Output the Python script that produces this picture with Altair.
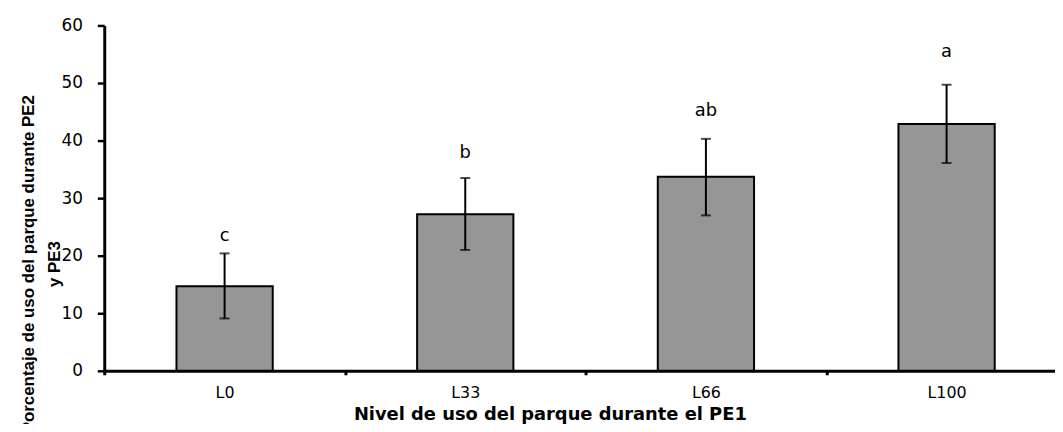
import altair as alt
import pandas as pd

categories = ["L0", "L33", "L66", "L100"]
means = [14.7, 27.2, 33.7, 42.9]
lower = [9.1, 21.0, 27.0, 36.1]
upper = [20.4, 33.5, 40.3, 49.7]
letters = ["c", "b", "ab", "a"]
letter_y = [23.5, 37.8, 45.2, 55.3]
y_ticks = [0, 10, 20, 30, 40, 50, 60]

df = pd.DataFrame({
    "nivel": categories,
    "media": means,
    "lo": lower,
    "hi": upper,
    "letra": letters,
    "ly": letter_y,
})

x_scale = alt.Scale(domain=categories, range=[0, 970], paddingInner=0, paddingOuter=0)
y_scale = alt.Scale(domain=[0, 60], nice=False)

x_enc = alt.X(
    "nivel:N",
    sort=categories,
    scale=x_scale,
    axis=alt.Axis(
        title="Nivel de uso del parque durante el PE1",
        titleFont="DejaVu Sans",
        titleFontWeight="bold",
        titleFontSize=18,
        titleColor="black",
        titleX=449,
        titleY=44,
        titleBaseline="middle",
        labelFont="DejaVu Sans",
        labelFontSize=16,
        labelColor="black",
        labelAngle=0,
        labelPadding=10,
        tickBand="extent",
        tickSize=4,
        tickWidth=3,
        tickColor="black",
        domainColor="black",
        domainWidth=3,
        grid=False,
    ),
)

y_axis = alt.Axis(
    title=["Porcentaje de uso del parque durante PE2", "y PE3"],
    titleFont="Liberation Sans",
    titleFontWeight="bold",
    titleFontSize=17,
    titleColor="black",
    titleAngle=270,
    titleAlign="center",
    titleBaseline="alphabetic",
    titleX=-71,
    titleY=240,
    titleLineHeight=26,
    labelFont="DejaVu Sans",
    labelFontSize=17,
    labelColor="black",
    labelPadding=15,
    values=y_ticks,
    tickSize=7,
    tickWidth=2.5,
    tickColor="black",
    domainColor="black",
    domainWidth=3,
    grid=False,
)

base = alt.Chart(df)

bars = base.mark_bar(size=97, color="#969696", stroke="black", strokeWidth=2).encode(
    x=x_enc,
    y=alt.Y("media:Q", scale=y_scale, axis=y_axis),
)

rules = base.mark_rule(color="black", strokeWidth=2).encode(
    x=alt.X("nivel:N", sort=categories),
    y="lo:Q",
    y2="hi:Q",
)

caps_lo = base.mark_tick(color="black", size=10, thickness=2).encode(
    x=alt.X("nivel:N", sort=categories),
    y="lo:Q",
)
caps_hi = base.mark_tick(color="black", size=10, thickness=2).encode(
    x=alt.X("nivel:N", sort=categories),
    y="hi:Q",
)

texts = base.mark_text(font="DejaVu Sans", fontSize=18, color="black", baseline="middle").encode(
    x=alt.X("nivel:N", sort=categories),
    y="ly:Q",
    text="letra:N",
)

chart = alt.layer(bars, rules, caps_lo, caps_hi, texts).properties(
    width=958,
    height=348,
    padding={"left": 97, "top": 16, "right": 0, "bottom": 52},
    autosize=alt.AutoSizeParams(type="none"),
    background="white",
).configure_view(stroke=None)

chart.save("out.html", embed_options={"renderer": "svg", "actions": False})
